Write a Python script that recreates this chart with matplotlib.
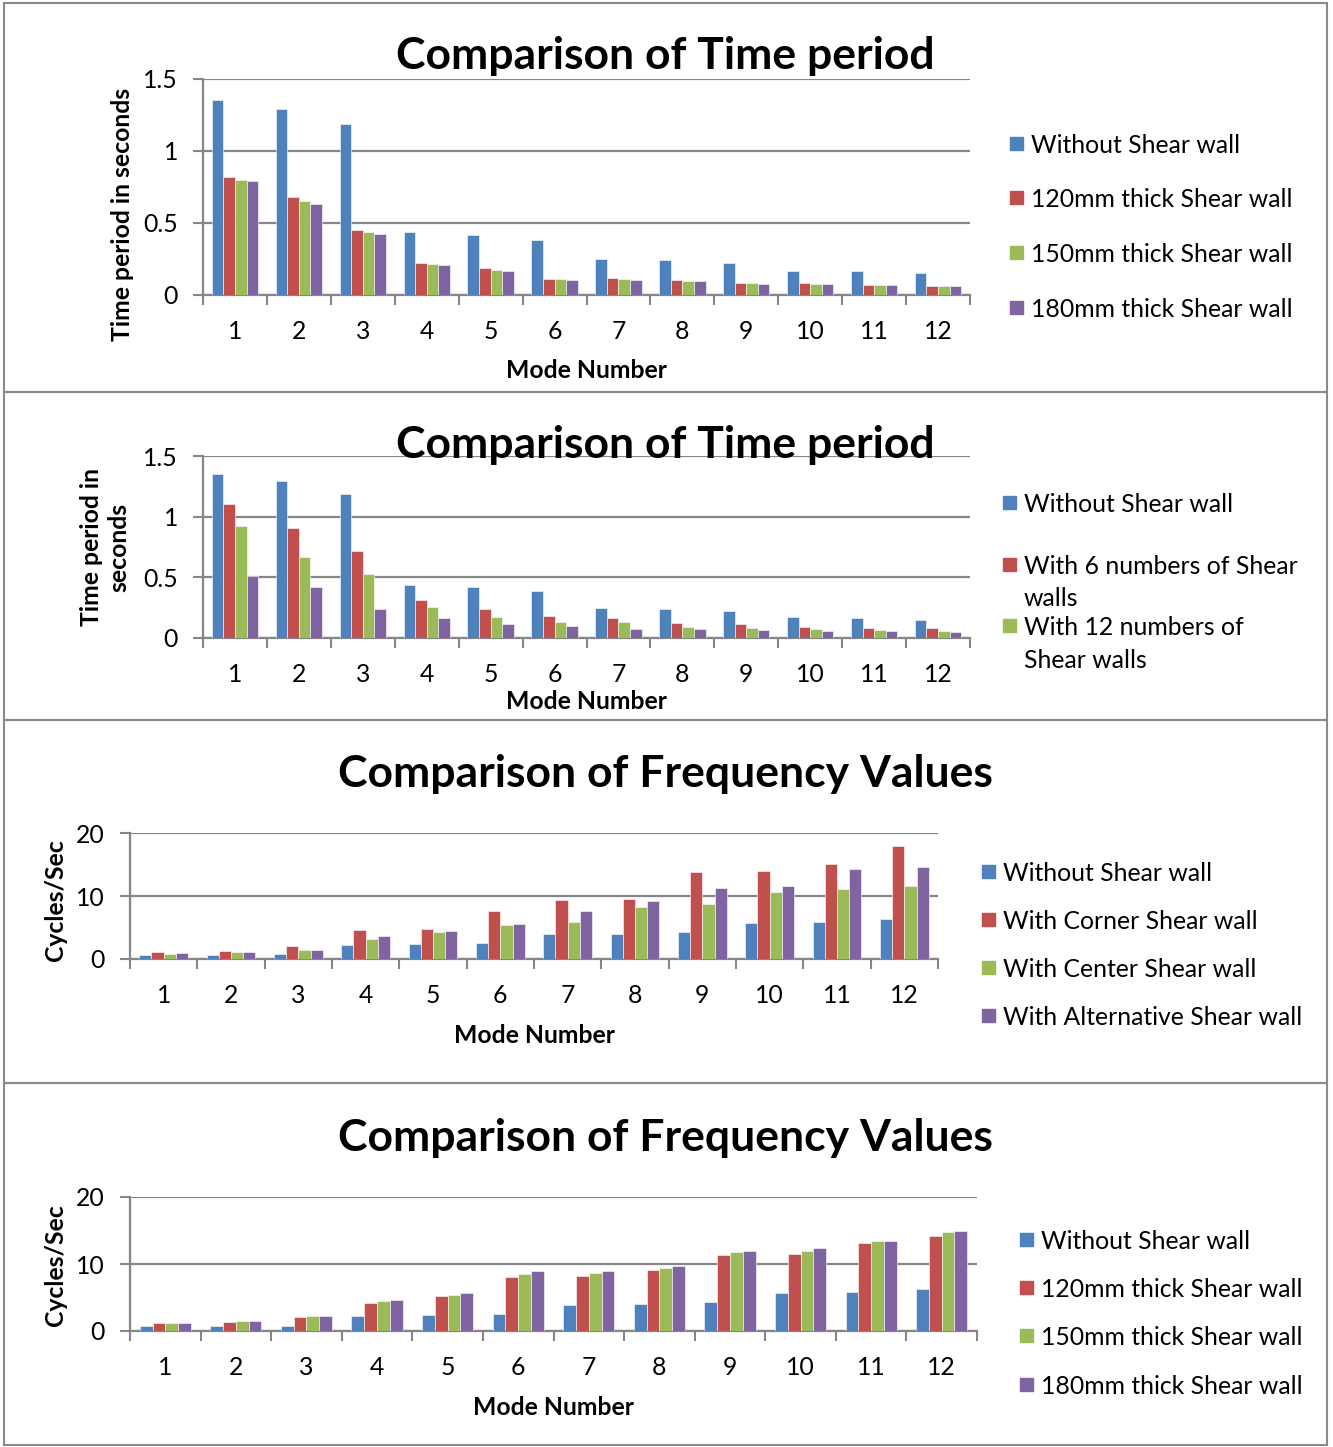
import numpy as np
import matplotlib
matplotlib.use('Agg')
import matplotlib.pyplot as plt
from matplotlib.patches import Rectangle

plt.rcParams['font.family'] = ['Lato', 'DejaVu Sans']

# -----------------------------
# Data
# -----------------------------
modes = list(range(1, 13))
colors = ['#4F81BD', '#C0504D', '#9BBB59', '#8064A2']

# Chart 1 : time period, shear wall thickness
tp_labels = ['Without Shear wall', '120mm thick Shear wall',
             '150mm thick Shear wall', '180mm thick Shear wall']
tp_none = [1.354, 1.293, 1.188, 0.435, 0.417, 0.384, 0.248, 0.240, 0.222, 0.169, 0.167, 0.155]
tp_120 = [0.819, 0.684, 0.451, 0.225, 0.186, 0.114, 0.117, 0.106, 0.080, 0.080, 0.068, 0.064]
tp_150 = [0.800, 0.656, 0.437, 0.214, 0.174, 0.110, 0.110, 0.099, 0.080, 0.078, 0.066, 0.062]
tp_180 = [0.790, 0.635, 0.426, 0.207, 0.165, 0.103, 0.106, 0.099, 0.076, 0.074, 0.066, 0.060]

# Chart 2 : time period, number of shear walls
tn_labels = ['Without Shear wall', 'With 6 numbers of Shear\nwalls',
             'With 12 numbers of\nShear walls']
tn_none = [1.350, 1.290, 1.188, 0.438, 0.421, 0.386, 0.246, 0.241, 0.224, 0.173, 0.164, 0.150]
tn_6 = [1.103, 0.906, 0.717, 0.317, 0.243, 0.183, 0.167, 0.126, 0.112, 0.090, 0.085, 0.085]
tn_12 = [0.923, 0.668, 0.526, 0.257, 0.175, 0.134, 0.134, 0.093, 0.085, 0.076, 0.066, 0.060]
tn_4th = [0.514, 0.421, 0.238, 0.167, 0.118, 0.101, 0.076, 0.076, 0.066, 0.060, 0.057, 0.052]

# Chart 3 : frequency, shear wall location
fl_labels = ['Without Shear wall', 'With Corner Shear wall',
             'With Center Shear wall', 'With Alternative Shear wall']
fl_none = [0.68, 0.68, 0.79, 2.20, 2.31, 2.53, 3.96, 4.00, 4.30, 5.70, 5.80, 6.33]
fl_corner = [1.16, 1.27, 2.10, 4.64, 4.80, 7.65, 9.39, 9.50, 13.87, 13.93, 15.04, 17.90]
fl_center = [0.84, 1.16, 1.47, 3.10, 4.32, 5.38, 5.90, 8.28, 8.70, 10.70, 11.13, 11.65]
fl_alt = [1.00, 1.16, 1.47, 3.69, 4.48, 5.59, 7.60, 9.28, 11.29, 11.60, 14.35, 14.57]

# Chart 4 : frequency, shear wall thickness
ft_labels = tp_labels
ft_none = [0.68, 0.79, 0.79, 2.23, 2.32, 2.53, 3.90, 4.00, 4.30, 5.65, 5.80, 6.29]
ft_120 = [1.19, 1.38, 2.12, 4.25, 5.20, 8.07, 8.17, 9.06, 11.38, 11.44, 13.17, 14.16]
ft_150 = [1.19, 1.43, 2.23, 4.46, 5.44, 8.51, 8.62, 9.40, 11.74, 11.93, 13.37, 14.71]
ft_180 = [1.24, 1.53, 2.27, 4.60, 5.69, 8.92, 9.00, 9.70, 11.89, 12.33, 13.46, 14.90]

# -----------------------------
# Figure helpers (pixel layout)
# -----------------------------
W, H = 1333, 1447
fig = plt.figure(figsize=(W / 100, H / 100), dpi=100)
GRID = '#868686'
FS = 17.8       # tick / label / legend size
TFS = 32        # title size


def add_ax(left, top, right, bottom):
    return fig.add_axes([left / W, 1 - bottom / H, (right - left) / W, (bottom - top) / H])


def draw_bars(ax, series, ymax, ystep):
    x = np.array(modes)
    w = 0.181
    n = len(series)
    for i, vals in enumerate(series):
        ax.bar(x + (i - (n - 1) / 2) * w, vals, width=w, color=colors[i],
               edgecolor='white', linewidth=0.4, zorder=3)
    ax.set_xlim(0.5, 12.5)
    ax.set_ylim(0, ymax)
    yt = np.arange(0, ymax + ystep / 2, ystep)
    ax.set_yticks(yt)
    ax.set_yticklabels([f'{v:g}' for v in yt])
    ax.set_xticks(modes)
    ax.set_xticks(np.arange(0.5, 13, 1), minor=True)
    ax.tick_params(axis='x', which='major', length=0, pad=18, labelsize=FS)
    ax.tick_params(axis='x', which='minor', length=7, width=1.5, color=GRID, direction='out')
    ax.tick_params(axis='y', length=7, width=1.5, color=GRID, pad=11, labelsize=FS)
    for s in ['top', 'right']:
        ax.spines[s].set_visible(False)
    for s in ['left', 'bottom']:
        ax.spines[s].set_color(GRID)
        ax.spines[s].set_linewidth(1.6)
    ax.yaxis.grid(True, color=GRID, linewidth=1.6, zorder=0)
    ax.set_axisbelow(True)


def draw_legend(x, ys, labels, box=13):
    for y, lab, c in zip(ys, labels, colors):
        fig.patches.append(Rectangle((x / W, 1 - (y + box / 2) / H), box / W, box / H,
                                     transform=fig.transFigure, color=c))
        fig.text((x + box + 8) / W, 1 - (y - 9) / H, lab, fontsize=FS, va='top',
                 ha='left', linespacing=1.5)


def panel(top, bottom):
    fig.patches.append(Rectangle((4 / W, 1 - bottom / H), 1323 / W, (bottom - top) / H,
                                 transform=fig.transFigure, fill=False,
                                 edgecolor='#8a8a8a', linewidth=1.5))


for t, b in [(3, 392), (392, 720), (720, 1083), (1083, 1445)]:
    panel(t, b)

# -----------------------------
# 1. Time period - wall thickness
# -----------------------------
ax1 = add_ax(203, 79, 970, 295)
draw_bars(ax1, [tp_none, tp_120, tp_150, tp_180], 1.5, 0.5)
fig.text(665 / W, 1 - 56 / H, 'Comparison of Time period', fontsize=TFS,
         fontweight='bold', ha='center', va='center')
ax1.set_xlabel('Mode Number', fontsize=FS, fontweight='bold')
ax1.xaxis.set_label_coords(0.5, -64 / 216, transform=ax1.transAxes)
fig.text(122 / W, 1 - 214 / H, 'Time period in seconds', rotation=90, fontsize=FS,
         fontweight='bold', ha='center', va='center')
draw_legend(1010, [143, 197, 252, 307], tp_labels)

# -----------------------------
# 2. Time period - number of walls
# -----------------------------
ax2 = add_ax(203, 456, 970, 638)
draw_bars(ax2, [tn_none, tn_6, tn_12, tn_4th], 1.5, 0.5)
fig.text(665 / W, 1 - 445 / H, 'Comparison of Time period', fontsize=TFS,
         fontweight='bold', ha='center', va='center')
ax2.set_xlabel('Mode Number', fontsize=FS, fontweight='bold')
ax2.xaxis.set_label_coords(0.5, -52 / 182, transform=ax2.transAxes)
fig.text(105 / W, 1 - 547 / H, 'Time period in\nseconds', rotation=90, fontsize=FS,
         fontweight='bold', ha='center', va='center', linespacing=1.25)
draw_legend(1003, [502, 564, 625], tn_labels)

# -----------------------------
# 3. Frequency - wall location
# -----------------------------
ax3 = add_ax(130, 833, 938, 959)
draw_bars(ax3, [fl_none, fl_corner, fl_center, fl_alt], 20, 10)
fig.text(665 / W, 1 - 774 / H, 'Comparison of Frequency Values', fontsize=TFS,
         fontweight='bold', ha='center', va='center')
ax3.set_xlabel('Mode Number', fontsize=FS, fontweight='bold')
ax3.xaxis.set_label_coords(0.5, -65 / 126, transform=ax3.transAxes)
fig.text(55 / W, 1 - 900 / H, 'Cycles/Sec', rotation=90, fontsize=FS,
         fontweight='bold', ha='center', va='center')
draw_legend(982, [871, 919, 967, 1015], fl_labels)

# -----------------------------
# 4. Frequency - wall thickness
# -----------------------------
ax4 = add_ax(130, 1197, 977, 1331)
draw_bars(ax4, [ft_none, ft_120, ft_150, ft_180], 20, 10)
fig.text(665 / W, 1 - 1138 / H, 'Comparison of Frequency Values', fontsize=TFS,
         fontweight='bold', ha='center', va='center')
ax4.set_xlabel('Mode Number', fontsize=FS, fontweight='bold')
ax4.xaxis.set_label_coords(0.5, -65 / 134, transform=ax4.transAxes)
fig.text(55 / W, 1 - 1265 / H, 'Cycles/Sec', rotation=90, fontsize=FS,
         fontweight='bold', ha='center', va='center')
draw_legend(1020, [1239, 1287, 1335, 1384], ft_labels)

fig.savefig('out.png', dpi=100)
